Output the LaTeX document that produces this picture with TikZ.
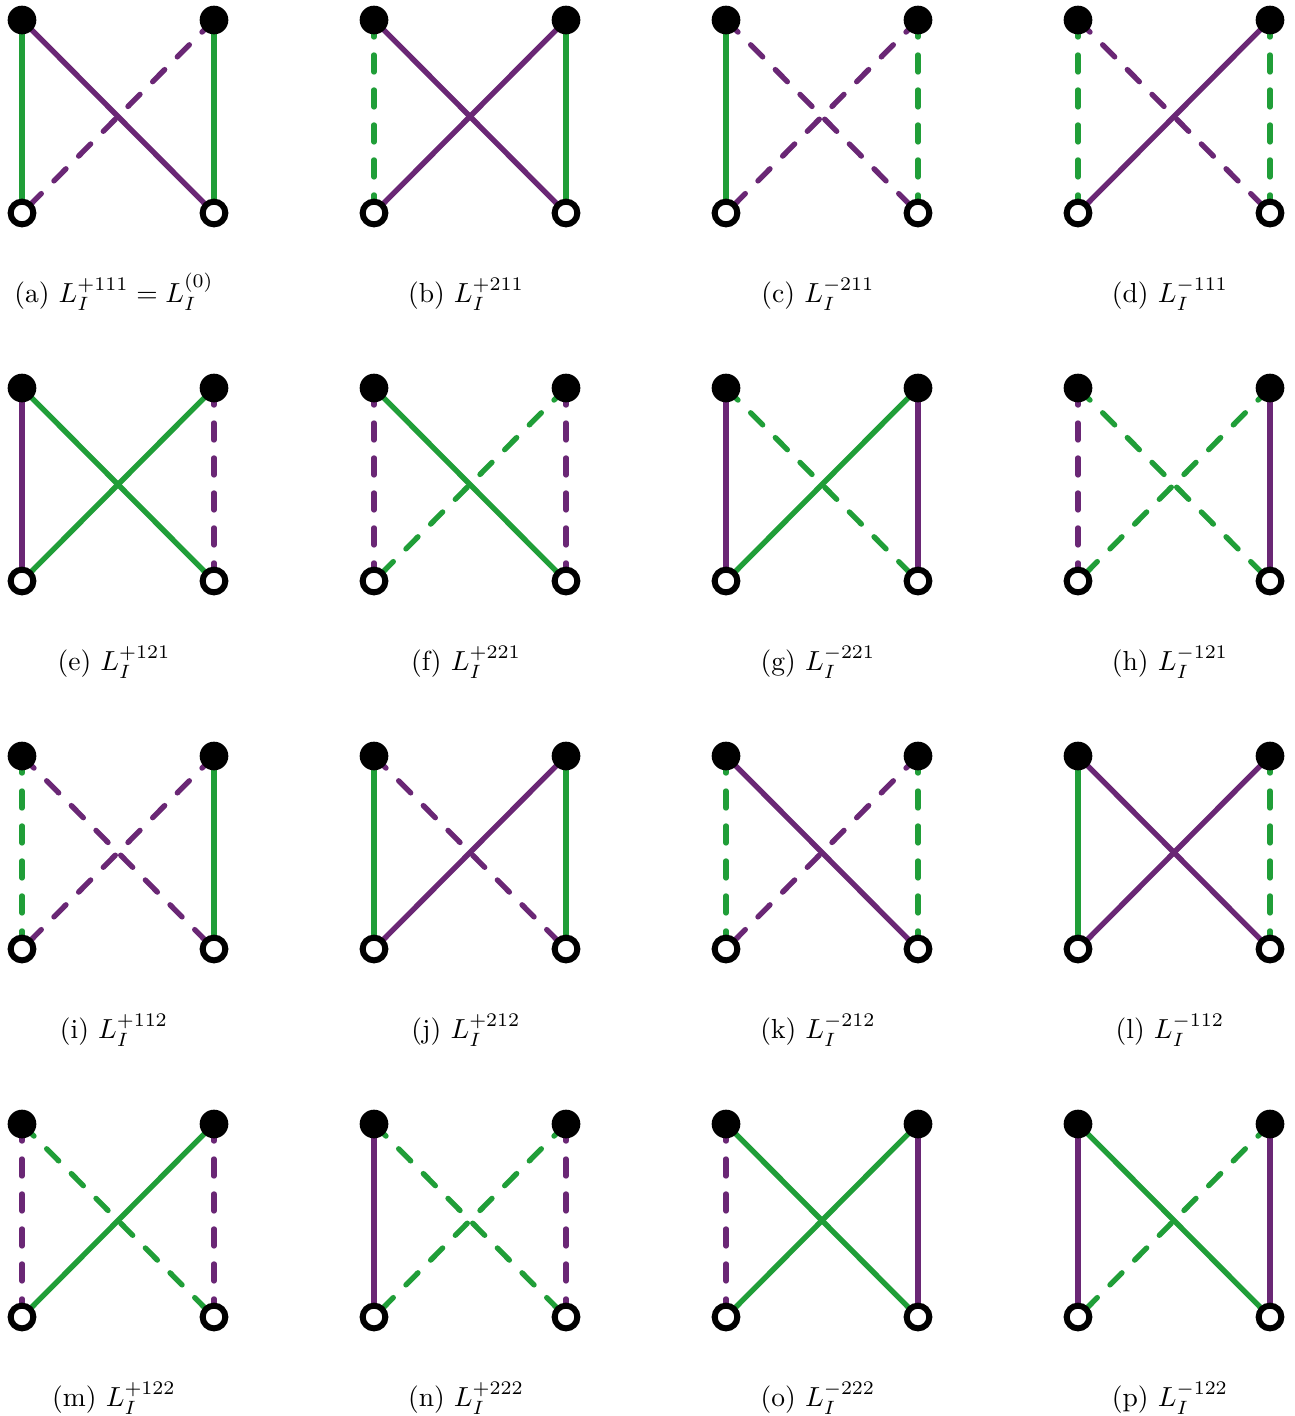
\documentclass[tikz,border=0pt]{standalone}
\usetikzlibrary{backgrounds}
\definecolor{cpurple}{RGB}{106,39,117}
\definecolor{cgreen}{RGB}{32,158,56}
\tikzset{
 full/.style={circle,fill=black,inner sep=0pt,minimum size=10.4pt},
 hollow/.style={circle,draw=black,fill=white,line width=2.18pt,inner sep=0pt,minimum size=8.24pt},
 edge/.style={line width=1.95pt},
 dsh/.style={line cap=round,dash pattern=on 6.17pt off 6.53pt},
 gs/.style={edge,draw=cgreen},
 gd/.style={edge,draw=cgreen,dsh},
 ps/.style={edge,draw=cpurple},
 pd/.style={edge,draw=cpurple,dsh},
 lab/.style={anchor=base,inner sep=0pt}
}
% #1 name, #2 x left, #3 y top, #4 label, #5 L, #6 R, #7 D1 (TL-BR), #8 D2 (TR-BL)
\newcommand\pnl[8]{%
 \node[full] (#1tl) at (#2,#3) {};
 \node[full] (#1tr) at ({#2+192},#3) {};
 \node[hollow] (#1bl) at (#2,{#3+193}) {};
 \node[hollow] (#1br) at ({#2+192},{#3+193}) {};
 \begin{pgfonlayer}{background}
 \draw[#5] (#1tl.center) -- (#1bl.center);
 \draw[#6] (#1tr.center) -- (#1br.center);
 \draw[#7] (#1tl.center) -- (#1br.center);
 \draw[#8] (#1tr.center) -- (#1bl.center);
 \end{pgfonlayer}
 \node[lab] (#1lab) at ({#2+92},{#3+282}) {#4};
}
\begin{document}
\begin{tikzpicture}[x=0.363pt,y=-0.363pt]
\useasboundingbox (0,0) rectangle (1294,1416);
\pnl{a}{22}{20}{(a) $L_I^{+111}=L_I^{(0)}$}{gs}{gs}{ps}{pd}
\pnl{b}{374}{20}{(b) $L_I^{+211}$}{gd}{gs}{ps}{ps}
\pnl{c}{726}{20}{(c) $L_I^{-211}$}{gs}{gd}{pd}{pd}
\pnl{d}{1078}{20}{(d) $L_I^{-111}$}{gd}{gd}{pd}{ps}
\pnl{e}{22}{388}{(e) $L_I^{+121}$}{ps}{pd}{gs}{gs}
\pnl{f}{374}{388}{(f) $L_I^{+221}$}{pd}{pd}{gs}{gd}
\pnl{g}{726}{388}{(g) $L_I^{-221}$}{ps}{ps}{gd}{gs}
\pnl{h}{1078}{388}{(h) $L_I^{-121}$}{pd}{ps}{gd}{gd}
\pnl{i}{22}{756}{(i) $L_I^{+112}$}{gd}{gs}{pd}{pd}
\pnl{j}{374}{756}{(j) $L_I^{+212}$}{gs}{gs}{pd}{ps}
\pnl{k}{726}{756}{(k) $L_I^{-212}$}{gd}{gd}{ps}{pd}
\pnl{l}{1078}{756}{(l) $L_I^{-112}$}{gs}{gd}{ps}{ps}
\pnl{m}{22}{1124}{(m) $L_I^{+122}$}{pd}{pd}{gd}{gs}
\pnl{n}{374}{1124}{(n) $L_I^{+222}$}{ps}{pd}{gd}{gd}
\pnl{o}{726}{1124}{(o) $L_I^{-222}$}{pd}{ps}{gs}{gs}
\pnl{p}{1078}{1124}{(p) $L_I^{-122}$}{ps}{ps}{gs}{gd}
\end{tikzpicture}
\end{document}
